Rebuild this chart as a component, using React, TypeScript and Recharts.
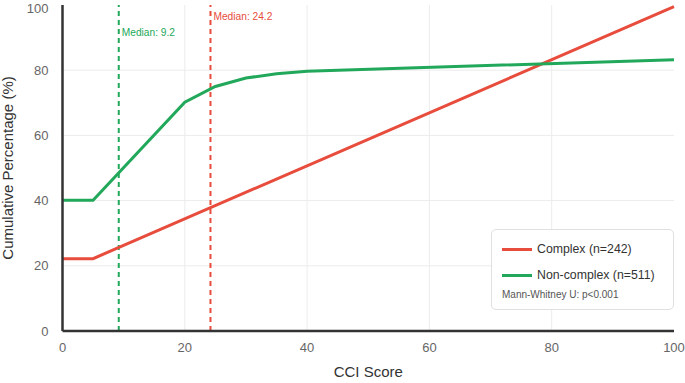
import {
  LineChart,
  Line,
  XAxis,
  YAxis,
  CartesianGrid,
  ReferenceLine,
} from "recharts";

const xTicks = [0, 20, 40, 60, 80, 100];
const yTicks = [0, 20, 40, 60, 80, 100];

const complexSeries = [
  { x: 0, y: 22.2 },
  { x: 5, y: 22.2 },
  { x: 100, y: 99.5 },
];

const nonComplexSeries = [
  { x: 0, y: 40.1 },
  { x: 5, y: 40.1 },
  { x: 20, y: 70.2 },
  { x: 25, y: 75.0 },
  { x: 30, y: 77.6 },
  { x: 35, y: 78.9 },
  { x: 40, y: 79.7 },
  { x: 100, y: 83.2 },
];

const legendItems = [
  { name: "Complex (n=242)", color: "#e74c3c" },
  { name: "Non-complex (n=511)", color: "#22a85a" },
];
const testNote = "Mann-Whitney U: p<0.001";

const medianComplex = 24.2;
const medianNonComplex = 9.2;

const RED = "#e74c3c";
const GREEN = "#22a85a";
const FONT = "'Liberation Sans', Arial, Helvetica, sans-serif";

function medianLabel(text: string, color: string, dy: number) {
  return (props: any) => {
    const vb = props.viewBox || {};
    return (
      <text
        x={(vb.x ?? 0) + 3}
        y={(vb.y ?? 0) + dy}
        fill={color}
        fontSize={10.2}
        fontFamily={FONT}
      >
        {text}
      </text>
    );
  };
}

function LegendBox() {
  return (
    <div
      style={{
        position: "absolute",
        left: 491,
        top: 229,
        width: 183,
        height: 81,
        boxSizing: "border-box",
        background: "#fff",
        border: "1px solid #e0e0e0",
        borderRadius: 5,
        padding: "6px 0 0 10px",
        fontFamily: FONT,
      }}
    >
      {legendItems.map((e) => (
        <div
          key={e.name}
          style={{ display: "flex", alignItems: "center", height: 26, fontSize: 12.3, color: "#333" }}
        >
          <span style={{ width: 30, height: 3, background: e.color, marginRight: 5 }} />
          {e.name}
        </div>
      ))}
      <div style={{ fontSize: 10, lineHeight: "12px", color: "#555", marginTop: 1 }}>{testNote}</div>
    </div>
  );
}

export default function App() {
  return (
    <div style={{ position: "fixed", left: 0, top: 0, width: 685, height: 383, background: "#fff" }}>
      <LineChart
        width={685}
        height={383}
        margin={{ top: 5, right: 11, left: 0, bottom: 0 }}
        style={{ fontFamily: FONT }}
      >
        <CartesianGrid
          stroke="#ececec"
          horizontalValues={[20, 40, 60, 80]}
          verticalValues={[20, 40, 60, 80]}
        />
        <XAxis
          type="number"
          dataKey="x"
          domain={[0, 100]}
          ticks={xTicks}
          tickLine={false}
          axisLine={{ stroke: "#333", strokeWidth: 2.5 }}
          tick={{ fontSize: 13, fill: "#666" }}
          tickMargin={6}
          height={52}
          label={{ value: "CCI Score", position: "insideBottom", offset: 6, fontSize: 15, fill: "#333" }}
        />
        <YAxis
          type="number"
          domain={[0, 100]}
          ticks={yTicks}
          tickLine={false}
          axisLine={{ stroke: "#333", strokeWidth: 2.5 }}
          tick={{ fontSize: 13, fill: "#666" }}
          tickMargin={8}
          width={62.5}
          label={{
            value: "Cumulative Percentage (%)",
            angle: -90,
            position: "insideLeft",
            offset: 8,
            fontSize: 15,
            fill: "#333",
            style: { textAnchor: "middle" },
          }}
        />
        <ReferenceLine
          x={medianNonComplex}
          stroke={GREEN}
          strokeWidth={2}
          strokeDasharray="5 4"
          label={medianLabel("Median: 9.2", GREEN, 31)}
        />
        <ReferenceLine
          x={medianComplex}
          stroke={RED}
          strokeWidth={2}
          strokeDasharray="5 4"
          label={medianLabel("Median: 24.2", RED, 15)}
        />
        <Line
          data={complexSeries}
          dataKey="y"
          name="Complex (n=242)"
          stroke={RED}
          strokeWidth={3}
          dot={false}
          isAnimationActive={false}
        />
        <Line
          data={nonComplexSeries}
          dataKey="y"
          name="Non-complex (n=511)"
          stroke={GREEN}
          strokeWidth={3}
          dot={false}
          isAnimationActive={false}
        />
      </LineChart>
      <LegendBox />
    </div>
  );
}
